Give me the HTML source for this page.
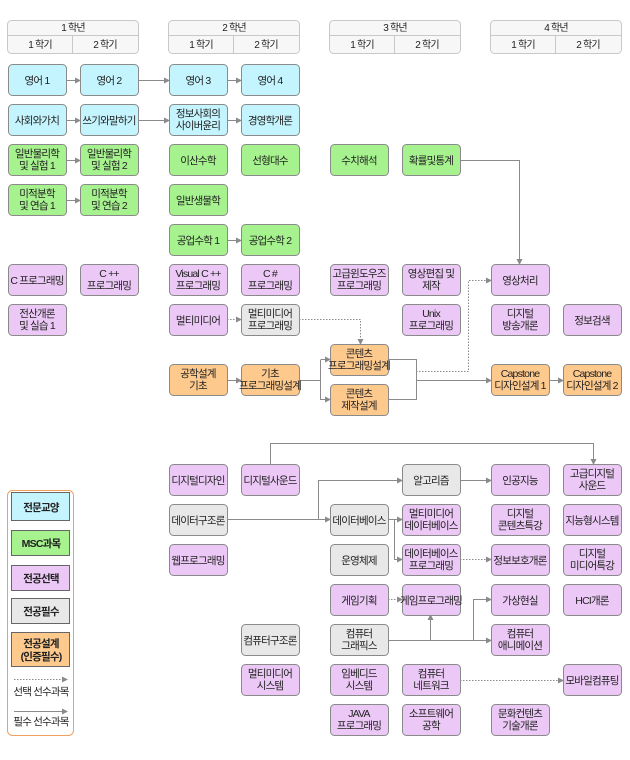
<!DOCTYPE html>
<html><head><meta charset="utf-8"><style>
body{margin:0;background:#fff}
svg{display:block}
text{font-family:"Liberation Sans","Noto Sans CJK KR",sans-serif;font-size:10.5px;fill:#222;text-anchor:middle;letter-spacing:-0.8px}
.b rect{stroke:#8a8a8a;stroke-width:1}
.cy{fill:#c4f4fd}.gr{fill:#a6f28e}.pu{fill:#ecc8f6}.gy{fill:#e8e8e8}.or{fill:#fdc98d}
.l{stroke:#8a8a8a;stroke-width:1;fill:none}
.d{stroke:#8a8a8a;stroke-width:1;fill:none;stroke-dasharray:1.5 1.5}
.h{fill:#f7f7f7;stroke:#c8c8c8}
.ht{font-size:10px}
</style></head><body>
<svg width="630" height="760" viewBox="0 0 630 760" xmlns="http://www.w3.org/2000/svg">
<defs><marker id="a" markerWidth="6" markerHeight="6" refX="5" refY="3" orient="auto" markerUnits="userSpaceOnUse"><path d="M0,0 L6,3 L0,6 z" fill="#8a8a8a"/></marker></defs>

<g>
<rect class="h" x="7.5" y="20.5" width="131" height="33" rx="4"/><line x1="7.5" y1="35.5" x2="138.5" y2="35.5" stroke="#c8c8c8"/><line x1="72.5" y1="35.5" x2="72.5" y2="53.5" stroke="#c8c8c8"/>
<text class="ht" x="73" y="31">1 학년</text><text class="ht" x="40" y="48">1 학기</text><text class="ht" x="105" y="48">2 학기</text>
<rect class="h" x="168.5" y="20.5" width="131" height="33" rx="4"/><line x1="168.5" y1="35.5" x2="299.5" y2="35.5" stroke="#c8c8c8"/><line x1="233.5" y1="35.5" x2="233.5" y2="53.5" stroke="#c8c8c8"/>
<text class="ht" x="234" y="31">2 학년</text><text class="ht" x="201" y="48">1 학기</text><text class="ht" x="266" y="48">2 학기</text>
<rect class="h" x="329.5" y="20.5" width="131" height="33" rx="4"/><line x1="329.5" y1="35.5" x2="460.5" y2="35.5" stroke="#c8c8c8"/><line x1="394.5" y1="35.5" x2="394.5" y2="53.5" stroke="#c8c8c8"/>
<text class="ht" x="395" y="31">3 학년</text><text class="ht" x="362" y="48">1 학기</text><text class="ht" x="427" y="48">2 학기</text>
<rect class="h" x="490.5" y="20.5" width="131" height="33" rx="4"/><line x1="490.5" y1="35.5" x2="621.5" y2="35.5" stroke="#c8c8c8"/><line x1="555.5" y1="35.5" x2="555.5" y2="53.5" stroke="#c8c8c8"/>
<text class="ht" x="556" y="31">4 학년</text><text class="ht" x="523" y="48">1 학기</text><text class="ht" x="588" y="48">2 학기</text>
</g>

<g>
<path class="l" d="M67,80.5H80" marker-end="url(#a)"/>
<path class="l" d="M138,80.5H169" marker-end="url(#a)"/>
<path class="l" d="M227,80.5H241" marker-end="url(#a)"/>
<path class="l" d="M67,120.5H80" marker-end="url(#a)"/>
<path class="l" d="M138,120.5H169" marker-end="url(#a)"/>
<path class="l" d="M227,120.5H241" marker-end="url(#a)"/>
<path class="l" d="M67,160.5H80" marker-end="url(#a)"/>
<path class="l" d="M67,200.5H80" marker-end="url(#a)"/>
<path class="l" d="M227,240.5H241" marker-end="url(#a)"/>
<path class="l" d="M460,160.5H519.5V264" marker-end="url(#a)"/>
<path class="d" d="M227,319.5H241" marker-end="url(#a)"/>
<path class="d" d="M299,319.5H360.5V344" marker-end="url(#a)"/>
<path class="l" d="M227,380.5H241" marker-end="url(#a)"/>
<path class="l" d="M299,380.5H320.5"/>
<path class="l" d="M320.5,360V400"/>
<path class="l" d="M320.5,359.5H330" marker-end="url(#a)"/>
<path class="l" d="M320.5,399.5H330" marker-end="url(#a)"/>
<path class="l" d="M388,359.5H416.5V399.5H388"/>
<path class="l" d="M416.5,380.5H491" marker-end="url(#a)"/>
<path class="d" d="M416,371.5H468.5V280.5H491" marker-end="url(#a)"/>
<path class="l" d="M549,380.5H563" marker-end="url(#a)"/>
<path class="l" d="M270.5,464V443.5H593.5V464" marker-end="url(#a)"/>
<path class="l" d="M227,519.5H330" marker-end="url(#a)"/>
<path class="l" d="M318.5,519.5V480.5H402" marker-end="url(#a)"/>
<path class="l" d="M460,480.5H491" marker-end="url(#a)"/>
<path class="l" d="M388,519.5H402" marker-end="url(#a)"/>
<path class="l" d="M394.5,519.5V559.5H402" marker-end="url(#a)"/>
<path class="d" d="M460,559.5H491" marker-end="url(#a)"/>
<path class="d" d="M388,599.5H402" marker-end="url(#a)"/>
<path class="l" d="M388,640.5H491" marker-end="url(#a)"/>
<path class="l" d="M430.5,640.5V615" marker-end="url(#a)"/>
<path class="l" d="M473.5,640.5V599.5H491" marker-end="url(#a)"/>
<path class="d" d="M460,680.5H563" marker-end="url(#a)"/>
</g>

<g class="b">
<rect class="cy" x="8.5" y="64.5" width="58" height="31" rx="4"/><text x="37" y="84">영어 1</text>
<rect class="cy" x="80.5" y="64.5" width="58" height="31" rx="4"/><text x="109" y="84">영어 2</text>
<rect class="cy" x="169.5" y="64.5" width="58" height="31" rx="4"/><text x="198" y="84">영어 3</text>
<rect class="cy" x="241.5" y="64.5" width="58" height="31" rx="4"/><text x="270" y="84">영어 4</text>

<rect class="cy" x="8.5" y="104.5" width="58" height="31" rx="4"/><text x="37" y="124">사회와가치</text>
<rect class="cy" x="80.5" y="104.5" width="58" height="31" rx="4"/><text x="109" y="124">쓰기와말하기</text>
<rect class="cy" x="169.5" y="104.5" width="58" height="31" rx="4"/><text x="198" y="117">정보사회의</text><text x="198" y="129">사이버윤리</text>
<rect class="cy" x="241.5" y="104.5" width="58" height="31" rx="4"/><text x="270" y="124">경영학개론</text>

<rect class="gr" x="8.5" y="144.5" width="58" height="31" rx="4"/><text x="37" y="157">일반물리학</text><text x="37" y="169">및 실험 1</text>
<rect class="gr" x="80.5" y="144.5" width="58" height="31" rx="4"/><text x="109" y="157">일반물리학</text><text x="109" y="169">및 실험 2</text>
<rect class="gr" x="169.5" y="144.5" width="58" height="31" rx="4"/><text x="198" y="164">이산수학</text>
<rect class="gr" x="241.5" y="144.5" width="58" height="31" rx="4"/><text x="270" y="164">선형대수</text>
<rect class="gr" x="330.5" y="144.5" width="58" height="31" rx="4"/><text x="359" y="164">수치해석</text>
<rect class="gr" x="402.5" y="144.5" width="58" height="31" rx="4"/><text x="431" y="164">확률및통계</text>

<rect class="gr" x="8.5" y="184.5" width="58" height="31" rx="4"/><text x="37" y="197">미적분학</text><text x="37" y="209">및 연습 1</text>
<rect class="gr" x="80.5" y="184.5" width="58" height="31" rx="4"/><text x="109" y="197">미적분학</text><text x="109" y="209">및 연습 2</text>
<rect class="gr" x="169.5" y="184.5" width="58" height="31" rx="4"/><text x="198" y="204">일반생물학</text>

<rect class="gr" x="169.5" y="224.5" width="58" height="31" rx="4"/><text x="198" y="244">공업수학 1</text>
<rect class="gr" x="241.5" y="224.5" width="58" height="31" rx="4"/><text x="270" y="244">공업수학 2</text>

<rect class="pu" x="8.5" y="264.5" width="58" height="31" rx="4"/><text x="37" y="284">C 프로그래밍</text>
<rect class="pu" x="80.5" y="264.5" width="58" height="31" rx="4"/><text x="109" y="277">C ++</text><text x="109" y="289">프로그래밍</text>
<rect class="pu" x="169.5" y="264.5" width="58" height="31" rx="4"/><text x="198" y="277">Visual C ++</text><text x="198" y="289">프로그래밍</text>
<rect class="pu" x="241.5" y="264.5" width="58" height="31" rx="4"/><text x="270" y="277">C #</text><text x="270" y="289">프로그래밍</text>
<rect class="pu" x="330.5" y="264.5" width="58" height="31" rx="4"/><text x="359" y="277">고급윈도우즈</text><text x="359" y="289">프로그래밍</text>
<rect class="pu" x="402.5" y="264.5" width="58" height="31" rx="4"/><text x="431" y="277">영상편집 및</text><text x="431" y="289">제작</text>
<rect class="pu" x="491.5" y="264.5" width="58" height="31" rx="4"/><text x="520" y="284">영상처리</text>

<rect class="pu" x="8.5" y="304.5" width="58" height="31" rx="4"/><text x="37" y="317">전산개론</text><text x="37" y="329">및 실습 1</text>
<rect class="pu" x="169.5" y="304.5" width="58" height="31" rx="4"/><text x="198" y="324">멀티미디어</text>
<rect class="gy" x="241.5" y="304.5" width="58" height="31" rx="4"/><text x="270" y="317">멀티미디어</text><text x="270" y="329">프로그래밍</text>
<rect class="pu" x="402.5" y="304.5" width="58" height="31" rx="4"/><text x="431" y="317">Unix</text><text x="431" y="329">프로그래밍</text>
<rect class="pu" x="491.5" y="304.5" width="58" height="31" rx="4"/><text x="520" y="317">디지털</text><text x="520" y="329">방송개론</text>
<rect class="pu" x="563.5" y="304.5" width="58" height="31" rx="4"/><text x="592" y="324">정보검색</text>

<rect class="or" x="330.5" y="344.5" width="58" height="31" rx="4"/><text x="359" y="357">콘텐츠</text><text x="359" y="369">프로그래밍설계</text>
<rect class="or" x="169.5" y="364.5" width="58" height="31" rx="4"/><text x="198" y="377">공학설계</text><text x="198" y="389">기초</text>
<rect class="or" x="241.5" y="364.5" width="58" height="31" rx="4"/><text x="270" y="377">기초</text><text x="270" y="389">프로그래밍설계</text>
<rect class="or" x="491.5" y="364.5" width="58" height="31" rx="4"/><text x="520" y="377">Capstone</text><text x="520" y="389">디자인설계 1</text>
<rect class="or" x="563.5" y="364.5" width="58" height="31" rx="4"/><text x="592" y="377">Capstone</text><text x="592" y="389">디자인설계 2</text>
<rect class="or" x="330.5" y="384.5" width="58" height="31" rx="4"/><text x="359" y="397">콘텐츠</text><text x="359" y="409">제작설계</text>

<rect class="pu" x="169.5" y="464.5" width="58" height="31" rx="4"/><text x="198" y="484">디지털디자인</text>
<rect class="pu" x="241.5" y="464.5" width="58" height="31" rx="4"/><text x="270" y="484">디지털사운드</text>
<rect class="gy" x="402.5" y="464.5" width="58" height="31" rx="4"/><text x="431" y="484">알고리즘</text>
<rect class="pu" x="491.5" y="464.5" width="58" height="31" rx="4"/><text x="520" y="484">인공지능</text>
<rect class="pu" x="563.5" y="464.5" width="58" height="31" rx="4"/><text x="592" y="477">고급디지털</text><text x="592" y="489">사운드</text>

<rect class="gy" x="169.5" y="504.5" width="58" height="31" rx="4"/><text x="198" y="524">데이터구조론</text>
<rect class="gy" x="330.5" y="504.5" width="58" height="31" rx="4"/><text x="359" y="524">데이터베이스</text>
<rect class="pu" x="402.5" y="504.5" width="58" height="31" rx="4"/><text x="431" y="517">멀티미디어</text><text x="431" y="529">데이터베이스</text>
<rect class="pu" x="491.5" y="504.5" width="58" height="31" rx="4"/><text x="520" y="517">디지털</text><text x="520" y="529">콘텐츠특강</text>
<rect class="pu" x="563.5" y="504.5" width="58" height="31" rx="4"/><text x="592" y="524">지능형시스템</text>

<rect class="pu" x="169.5" y="544.5" width="58" height="31" rx="4"/><text x="198" y="564">웹프로그래밍</text>
<rect class="gy" x="330.5" y="544.5" width="58" height="31" rx="4"/><text x="359" y="564">운영체제</text>
<rect class="pu" x="402.5" y="544.5" width="58" height="31" rx="4"/><text x="431" y="557">데이터베이스</text><text x="431" y="569">프로그래밍</text>
<rect class="pu" x="491.5" y="544.5" width="58" height="31" rx="4"/><text x="520" y="564">정보보호개론</text>
<rect class="pu" x="563.5" y="544.5" width="58" height="31" rx="4"/><text x="592" y="557">디지털</text><text x="592" y="569">미디어특강</text>

<rect class="pu" x="330.5" y="584.5" width="58" height="31" rx="4"/><text x="359" y="604">게임기획</text>
<rect class="pu" x="402.5" y="584.5" width="58" height="31" rx="4"/><text x="431" y="604">게임프로그래밍</text>
<rect class="pu" x="491.5" y="584.5" width="58" height="31" rx="4"/><text x="520" y="604">가상현실</text>
<rect class="pu" x="563.5" y="584.5" width="58" height="31" rx="4"/><text x="592" y="604">HCI개론</text>

<rect class="gy" x="241.5" y="624.5" width="58" height="31" rx="4"/><text x="270" y="644">컴퓨터구조론</text>
<rect class="gy" x="330.5" y="624.5" width="58" height="31" rx="4"/><text x="359" y="637">컴퓨터</text><text x="359" y="649">그래픽스</text>
<rect class="pu" x="491.5" y="624.5" width="58" height="31" rx="4"/><text x="520" y="637">컴퓨터</text><text x="520" y="649">애니메이션</text>

<rect class="pu" x="241.5" y="664.5" width="58" height="31" rx="4"/><text x="270" y="677">멀티미디어</text><text x="270" y="689">시스템</text>
<rect class="pu" x="330.5" y="664.5" width="58" height="31" rx="4"/><text x="359" y="677">임베디드</text><text x="359" y="689">시스템</text>
<rect class="pu" x="402.5" y="664.5" width="58" height="31" rx="4"/><text x="431" y="677">컴퓨터</text><text x="431" y="689">네트워크</text>
<rect class="pu" x="563.5" y="664.5" width="58" height="31" rx="4"/><text x="592" y="684">모바일컴퓨팅</text>

<rect class="pu" x="330.5" y="704.5" width="58" height="31" rx="4"/><text x="359" y="717">JAVA</text><text x="359" y="729">프로그래밍</text>
<rect class="pu" x="402.5" y="704.5" width="58" height="31" rx="4"/><text x="431" y="717">소프트웨어</text><text x="431" y="729">공학</text>
<rect class="pu" x="491.5" y="704.5" width="58" height="31" rx="4"/><text x="520" y="717">문화컨텐츠</text><text x="520" y="729">기술개론</text>
</g>

<rect x="7.5" y="490.5" width="66" height="245" rx="5" fill="#fff" stroke="#f0a060"/>
<g style="font-weight:bold">
<rect class="cy" x="11.5" y="492.5" width="58" height="28" stroke="#666"/><text x="41" y="511">전문교양</text>
<rect class="gr" x="11.5" y="530.5" width="58" height="25" stroke="#666"/><text x="41" y="547">MSC과목</text>
<rect class="pu" x="11.5" y="565.5" width="58" height="25" stroke="#666"/><text x="41" y="582">전공선택</text>
<rect class="gy" x="11.5" y="598.5" width="58" height="25" stroke="#666"/><text x="41" y="615">전공필수</text>
<rect class="or" x="11.5" y="632.5" width="58" height="34" stroke="#666"/><text x="41" y="647">전공설계</text><text x="41" y="660">(인증필수)</text>
</g>
<path class="d" d="M14,679.5H67" marker-end="url(#a)"/>
<text x="41" y="695">선택 선수과목</text>
<path class="l" d="M14,711.5H67" marker-end="url(#a)"/>
<text x="41" y="725">필수 선수과목</text>
</svg>
</body></html>
